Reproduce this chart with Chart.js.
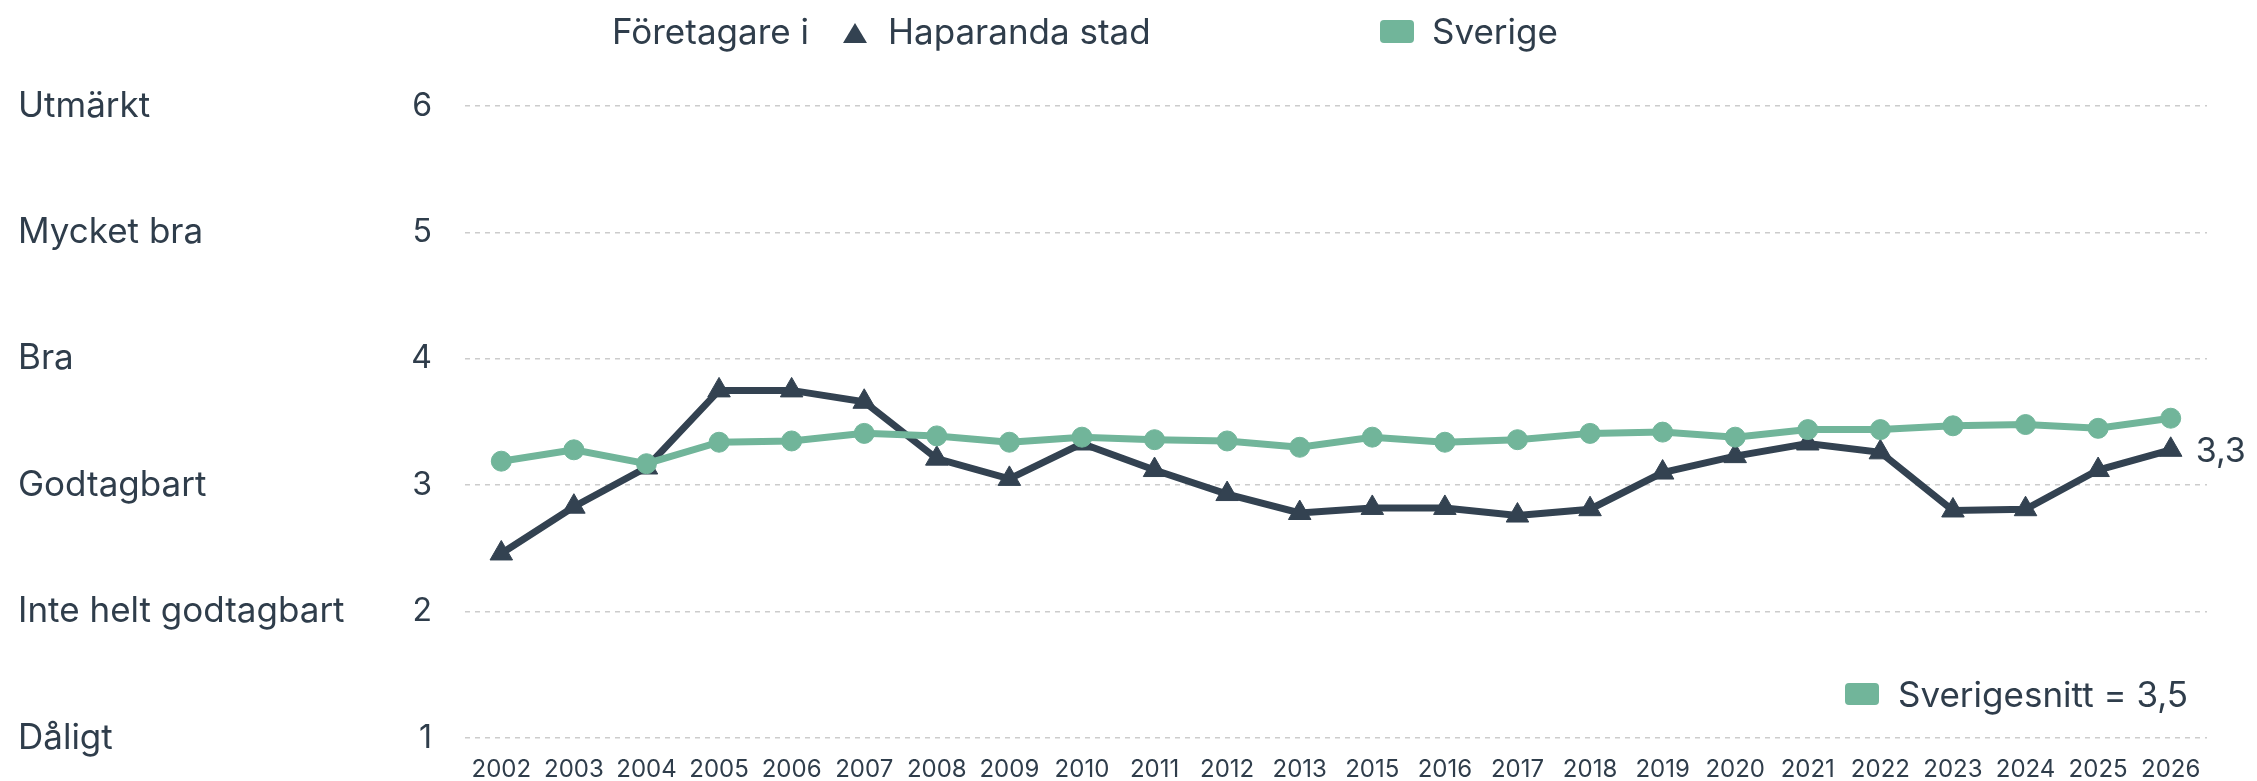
<!DOCTYPE html>
<html>
<head>
<meta charset="utf-8">
<script src="https://cdn.jsdelivr.net/npm/chart.js@4"></script>
<style>
  body { margin: 0; background: #ffffff; }
  #wrap { width: 2257px; height: 781px; }
</style>
</head>
<body>
<div id="wrap"><canvas id="nkiChart" width="2257" height="781"></canvas></div>
<script>
var years = ['2002', '2003', '2004', '2005', '2006', '2007', '2008', '2009', '2010', '2011', '2012', '2013',
             '2015', '2016', '2017', '2018', '2019', '2020', '2021', '2022', '2023', '2024', '2025', '2026'];
var haparanda = [2.46, 2.83, 3.14, 3.75, 3.75, 3.66, 3.21, 3.05, 3.33, 3.12, 2.93, 2.78,
                 2.82, 2.82, 2.76, 2.81, 3.10, 3.23, 3.33, 3.26, 2.80, 2.81, 3.12, 3.28];
var sverige = [3.19, 3.28, 3.17, 3.34, 3.35, 3.41, 3.39, 3.34, 3.38, 3.36, 3.35, 3.30,
               3.38, 3.34, 3.36, 3.41, 3.42, 3.38, 3.44, 3.44, 3.47, 3.48, 3.45, 3.53];
var levelNames = ['Dåligt', 'Inte helt godtagbart', 'Godtagbart', 'Bra', 'Mycket bra', 'Utmärkt'];
var levelTicks = [1, 2, 3, 4, 5, 6];
var seriesNames = ['Haparanda stad', 'Sverige'];
var legendPrefix = 'Företagare i';
var sverigeSnitt = 3.5;

var darkColor = '#334251';
var greenColor = '#71b59a';
var textColor = '#2f3d4b';
var fontFamily = 'Inter, "Noto Sans", sans-serif';

function commaNumber(v) {
    return v.toFixed(1).replace('.', ',');
}

function roundRect(c, x, y, w, h, r) {
    c.beginPath();
    c.moveTo(x + r, y);
    c.lineTo(x + w - r, y);
    c.quadraticCurveTo(x + w, y, x + w, y + r);
    c.lineTo(x + w, y + h - r);
    c.quadraticCurveTo(x + w, y + h, x + w - r, y + h);
    c.lineTo(x + r, y + h);
    c.quadraticCurveTo(x, y + h, x, y + h - r);
    c.lineTo(x, y + r);
    c.quadraticCurveTo(x, y, x + r, y);
    c.closePath();
    c.fill();
}

// y axes should not push the chart area up/down with their label padding
function fixLeftAxis(width) {
    return function (scale) {
        scale.width = width;
        scale.paddingTop = 0;
        scale.paddingBottom = 0;
    };
}

// legend row on top, average box at the bottom and the end value label
var extrasPlugin = {
    id: 'extras',
    afterDatasetsDraw: function (chart) {
        var c = chart.ctx;
        c.save();
        c.textBaseline = 'alphabetic';
        c.textAlign = 'left';

        c.font = '35px ' + fontFamily;
        c.fillStyle = textColor;
        c.fillText(legendPrefix, 612, 44);

        c.fillStyle = darkColor;
        c.beginPath();
        c.moveTo(855, 23);
        c.lineTo(867, 43);
        c.lineTo(843, 43);
        c.closePath();
        c.fill();
        c.fillStyle = textColor;
        c.fillText(seriesNames[0], 888, 44);

        c.fillStyle = greenColor;
        roundRect(c, 1380, 20, 34, 23, 4);
        c.fillStyle = textColor;
        c.fillText(seriesNames[1], 1432, 44);

        // Sverigesnitt
        c.fillStyle = greenColor;
        roundRect(c, 1845, 683, 34, 22, 4);
        c.fillStyle = textColor;
        c.fillText('Sverigesnitt = ' + commaNumber(sverigeSnitt), 1898, 707);

        // last value of Haparanda
        var meta = chart.getDatasetMeta(1);
        var last = meta.data[meta.data.length - 1];
        c.font = '34px ' + fontFamily;
        c.fillText(commaNumber(haparanda[haparanda.length - 1]), last.x + 25, last.y + 12);
        c.restore();
    }
};

var ctx = document.getElementById('nkiChart').getContext('2d');
var nkiChart = new Chart(ctx, {
    type: 'line',
    data: {
        labels: years,
        datasets: [{
            label: seriesNames[1],
            data: sverige,
            borderColor: greenColor,
            backgroundColor: greenColor,
            borderWidth: 7,
            pointStyle: 'circle',
            pointRadius: 10,
            pointBorderWidth: 1,
            tension: 0,
            order: 0
        }, {
            label: seriesNames[0],
            data: haparanda,
            borderColor: darkColor,
            backgroundColor: darkColor,
            borderWidth: 7,
            pointStyle: 'triangle',
            pointRadius: 13,
            pointBorderWidth: 1,
            tension: 0,
            order: 1
        }]
    },
    options: {
        responsive: false,
        animation: false,
        layout: {
            padding: { top: 106, right: 50, bottom: 0, left: 18 }
        },
        plugins: {
            legend: { display: false },
            tooltip: { enabled: false }
        },
        scales: {
            x: {
                type: 'category',
                offset: true,
                grid: { display: false, drawTicks: false },
                border: { display: false },
                ticks: {
                    color: textColor,
                    font: { family: fontFamily, size: 24 },
                    padding: 17,
                    autoSkip: false,
                    maxRotation: 0
                },
                afterFit: function (scale) {
                    scale.height = 43;
                }
            },
            y: {
                position: 'left',
                min: 1,
                max: 6,
                weight: 0,
                afterBuildTicks: function (scale) {
                    scale.ticks = levelTicks.map(function (v) { return { value: v }; });
                },
                grid: { color: '#cccccc', lineWidth: 1.5, drawTicks: false },
                border: { display: false, dash: [5, 5] },
                ticks: {
                    color: textColor,
                    font: { family: fontFamily, size: 32 },
                    padding: 33
                },
                afterFit: fixLeftAxis(107)
            },
            names: {
                type: 'linear',
                position: 'left',
                min: 1,
                max: 6,
                weight: 10,
                afterBuildTicks: function (scale) {
                    scale.ticks = levelTicks.map(function (v) { return { value: v }; });
                },
                grid: { display: false, drawTicks: false },
                border: { display: false },
                ticks: {
                    color: textColor,
                    crossAlign: 'far',
                    font: { family: fontFamily, size: 35 },
                    callback: function (value) {
                        return levelNames[value - 1];
                    }
                },
                afterFit: fixLeftAxis(340)
            }
        }
    },
    plugins: [extrasPlugin]
});
</script>
</body>
</html>
